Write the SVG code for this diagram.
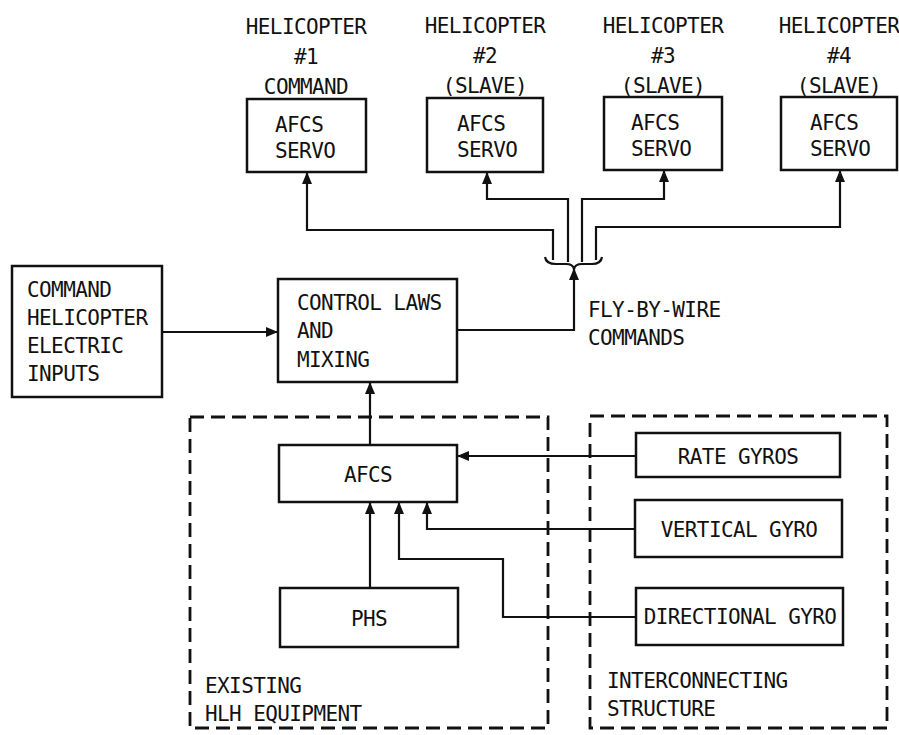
<svg xmlns="http://www.w3.org/2000/svg" width="899" height="735" viewBox="0 0 899 735">
<defs>
<style>
text{font-family:"DejaVu Sans Mono","Liberation Mono",monospace;font-size:21px;letter-spacing:-0.6px;fill:#111}
.c{text-anchor:middle}
.box{fill:#fff;stroke:#111;stroke-width:2.5}
.dash{fill:none;stroke:#111;stroke-width:2.8;stroke-dasharray:14 7}
.ln{fill:none;stroke:#111;stroke-width:2.2}
.ar{marker-end:url(#ah)}
</style>
<marker id="ah" markerUnits="userSpaceOnUse" markerWidth="13" markerHeight="10" refX="12" refY="5" orient="auto">
<path d="M0,0 L12,5 L0,10 z" fill="#111"/>
</marker>
</defs>
<rect width="899" height="735" fill="#fff"/>

<g id="groups">
<rect id="existing-hlh" class="dash" x="190" y="417" width="358" height="311"/>
<rect id="interconnecting" class="dash" x="590" y="416" width="297" height="312"/>
<text x="205" y="693">EXISTING</text>
<text x="205" y="721">HLH EQUIPMENT</text>
<text x="607" y="688">INTERCONNECTING</text>
<text x="607" y="716">STRUCTURE</text>
</g>

<g id="connectors">
<path class="ln ar" d="M162,332 H278"/>
<path class="ln ar" d="M457,330 H574 V268"/>
<path class="ln" d="M545,257 Q546,264 556,264 L566,264 Q573,264 574,269 Q575,264 582,264 L592,264 Q601,264 602,257"/>
<path class="ln ar" d="M553,260 V230 H307 V172"/>
<path class="ln ar" d="M568,262 V199 H487 V172"/>
<path class="ln ar" d="M582,262 V199 H664 V170"/>
<path class="ln ar" d="M596,260 V227 H840 V170"/>
<path class="ln ar" d="M370,445 V382"/>
<path class="ln ar" d="M370,588 V502"/>
<path class="ln ar" d="M636,456 H457"/>
<path class="ln ar" d="M635,529 H427 V502"/>
<path class="ln ar" d="M636,617 H503 V559 H399 V502"/>
<text x="588" y="317">FLY-BY-WIRE</text>
<text x="588" y="345">COMMANDS</text>
</g>

<g id="heli1">
<text class="c" x="306" y="34">HELICOPTER</text>
<text class="c" x="306" y="64">#1</text>
<text class="c" x="306" y="94">COMMAND</text>
<rect class="box" x="247" y="99" width="119" height="73"/>
<text x="275" y="132">AFCS</text>
<text x="275" y="158">SERVO</text>
</g>

<g id="heli2">
<text class="c" x="485" y="33">HELICOPTER</text>
<text class="c" x="485" y="63">#2</text>
<text class="c" x="485" y="93">(SLAVE)</text>
<rect class="box" x="427" y="98" width="116" height="74"/>
<text x="457" y="131">AFCS</text>
<text x="457" y="157">SERVO</text>
</g>

<g id="heli3">
<text class="c" x="663" y="33">HELICOPTER</text>
<text class="c" x="663" y="63">#3</text>
<text class="c" x="663" y="93">(SLAVE)</text>
<rect class="box" x="604" y="97" width="118" height="73"/>
<text x="631" y="130">AFCS</text>
<text x="631" y="156">SERVO</text>
</g>

<g id="heli4">
<text class="c" x="839" y="33">HELICOPTER</text>
<text class="c" x="839" y="63">#4</text>
<text class="c" x="839" y="93">(SLAVE)</text>
<rect class="box" x="781" y="97" width="116" height="73"/>
<text x="810" y="130">AFCS</text>
<text x="810" y="156">SERVO</text>
</g>

<g id="command-inputs">
<rect class="box" x="12" y="266" width="150" height="131"/>
<text x="27" y="297">COMMAND</text>
<text x="27" y="325">HELICOPTER</text>
<text x="27" y="353">ELECTRIC</text>
<text x="27" y="381">INPUTS</text>
</g>

<g id="control-laws">
<rect class="box" x="278" y="279" width="179" height="103"/>
<text x="297" y="310">CONTROL LAWS</text>
<text x="297" y="338">AND</text>
<text x="297" y="367">MIXING</text>
</g>

<g id="afcs">
<rect class="box" x="279" y="445" width="178" height="57"/>
<text class="c" x="368" y="482">AFCS</text>
</g>

<g id="phs">
<rect class="box" x="280" y="588" width="178" height="59"/>
<text class="c" x="369" y="626">PHS</text>
</g>

<g id="rate-gyros">
<rect class="box" x="636" y="433" width="204" height="44"/>
<text class="c" x="738" y="464">RATE GYROS</text>
</g>

<g id="vertical-gyro">
<rect class="box" x="635" y="500" width="207" height="57"/>
<text class="c" x="739" y="537">VERTICAL GYRO</text>
</g>

<g id="directional-gyro">
<rect class="box" x="636" y="588" width="207" height="57"/>
<text class="c" x="740" y="624">DIRECTIONAL GYRO</text>
</g>
</svg>
